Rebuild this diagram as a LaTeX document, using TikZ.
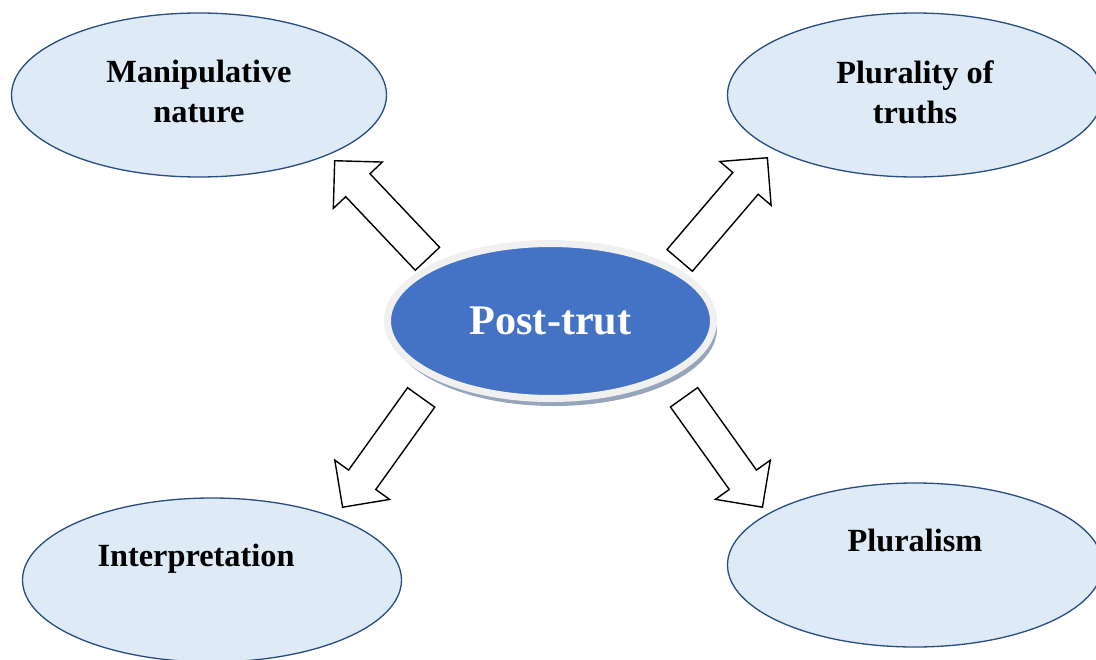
\documentclass[tikz,border=0pt]{standalone}
\usepackage{fontspec}
\setmainfont{Liberation Serif}
\usepackage{tikz}
\usetikzlibrary{shapes.geometric, shapes.arrows, shadows}
\definecolor{leafblue}{RGB}{222,234,246}
\definecolor{leafline}{RGB}{40,78,130}
\definecolor{coreblue}{RGB}{68,114,196}
\definecolor{coreshadow}{RGB}{140,155,180}
\tikzstyle{leaf} = [ellipse, minimum width=7.5cm, minimum height=3.28cm, inner sep=0pt, text centered, align=center, draw=leafline, line width=0.75pt, fill=leafblue, font=\fontsize{18.4}{22.8}\selectfont\bfseries]
\tikzstyle{core} = [ellipse, minimum width=6.52cm, minimum height=3.1cm, inner sep=0pt, text centered, draw=black!6, line width=4pt, fill=coreblue, text=white, font=\fontsize{24}{28}\selectfont\bfseries, drop shadow={shadow xshift=0.07cm, shadow yshift=-0.15cm, fill=coreshadow, opacity=0.9}]
\tikzstyle{blockarrow} = [single arrow, draw=black, fill=white, line width=0.8pt, inner xsep=0pt, inner ysep=0.32cm, minimum width=0pt, minimum height=2.7cm, single arrow head extend=0.34cm, single arrow tip angle=90, anchor=tip]

\begin{document}
\begin{tikzpicture}[node distance=2cm]
\useasboundingbox (0,0) rectangle (21.92,13.18);

\node (core) [core] at (11.01,6.76) {Post-trut};
\node (manip) [leaf] at (3.98,11.28) {Manipulative\\nature\\[-19pt]\mbox{}};
\node (plural) [leaf] at (18.30,11.28) {Plurality of\\truths\\[-19pt]\mbox{}};
\node (interp) [leaf, minimum width=7.58cm] at (4.24,1.58) {Interpretation\hspace*{0.64cm}\\[5pt]\mbox{}};
\node (pluralism) [leaf] at (18.30,1.88) {Pluralism\\[5pt]\mbox{}};

\node (tomanip) [blockarrow, rotate=133.4] at (6.68,9.98) {};
\node (toplural) [blockarrow, rotate=49.5] at (15.36,10.04) {};
\node (tointerp) [blockarrow, rotate=234.4] at (6.84,3.02) {};
\node (topluralism) [blockarrow, rotate=-54.5] at (15.26,3.02) {};

\end{tikzpicture}
\end{document}
